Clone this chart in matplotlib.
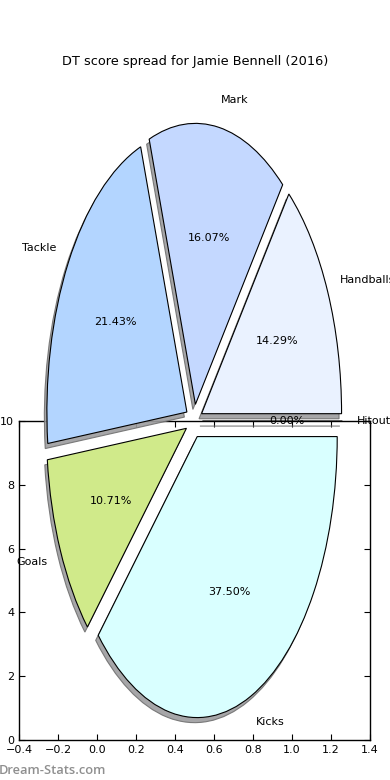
import numpy as np
import matplotlib
matplotlib.use('Agg')
import matplotlib.pyplot as plt

# DT points per stat (Jamie Bennell, 2016)
labels = ['Hitout', 'Handballs', 'Mark', 'Tackle', 'Goals', 'Kicks']
points = [0, 8, 9, 12, 6, 21]
colors = ['#f4f8ff', '#eaf2ff', '#c4d8ff', '#b3d5ff', '#d0ea8a', '#d9ffff']
explode = [0.06] * len(points)

xticks = np.arange(-0.4, 1.41, 0.2)
yticks = np.arange(0, 11, 2)

fig = plt.figure(figsize=(3.9, 7.8), dpi=100)
fig.patch.set_facecolor('white')

# frame axes (old-style, ticks inside on every side)
ax = fig.add_axes([19/390, 40/780, 351/390, 319/780])
ax.set_xlim(-0.4, 1.4)
ax.set_ylim(0, 10)
ax.set_xticks(xticks)
ax.set_yticks(yticks)
ax.tick_params(direction='in', top=True, right=True, labelsize=8, length=4, width=0.8)
for s in ax.spines.values():
    s.set_linewidth(1.0)

# pie drawn on a transparent overlay so it sits above the frame
pax = fig.add_axes([0, 0, 1, 1], zorder=5)
pax.patch.set_alpha(0)
shadow = {'ox': -0.013, 'oy': -0.013, 'facecolor': '#9d9d9f',
          'edgecolor': '#707070', 'alpha': 0.9}
pax.pie(points, labels=labels, colors=colors, explode=explode,
        autopct='%.2f%%', shadow=shadow, startangle=0,
        wedgeprops={'edgecolor': 'black', 'linewidth': 0.8},
        textprops={'fontsize': 8})
pax.set_aspect('auto')
pax.set_xlim(-194/140, (390-194)/140)
pax.set_ylim(-359/281, (780-359)/281)
pax.axis('off')

fig.text(0.5, 1 - 61/780, 'DT score spread for Jamie Bennell (2016)',
         ha='center', va='center', fontsize=9.3)
fig.text(-0.003, 1 - 771/780, 'Dream-Stats.com', ha='left', va='center',
         fontsize=9.3, fontweight='semibold', family='Open Sans', color='#8f8f8f')

plt.savefig('out.png', dpi=100)
